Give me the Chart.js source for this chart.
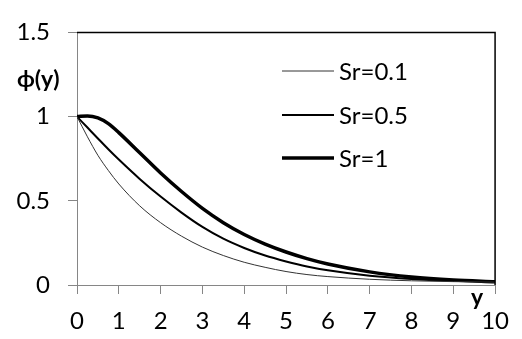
<!DOCTYPE html>
<html>
<head>
<meta charset="utf-8">
<script src="https://cdn.jsdelivr.net/npm/chart.js@4.4.1/dist/chart.umd.min.js"></script>
<style>
  html, body { margin: 0; padding: 0; background: #fff; }
  #wrap { width: 522px; height: 339px; }
</style>
</head>
<body>
<div id="wrap"><canvas id="chart" width="522" height="339"></canvas></div>
<script>
/* =====================
   DATA
===================== */
const yPos = [0, 0.25, 0.5, 0.75, 1, 1.5, 2, 2.5, 3, 3.5, 4, 4.5, 5, 5.5, 6, 7, 8, 9, 10];
const phiSr01 = [1, 0.88, 0.77, 0.68, 0.6, 0.47, 0.37, 0.29, 0.225, 0.175, 0.135, 0.105, 0.08, 0.062, 0.05, 0.034, 0.025, 0.02, 0.017];
const phiSr05 = [1, 0.935, 0.87, 0.806, 0.745, 0.63, 0.525, 0.43, 0.345, 0.275, 0.22, 0.175, 0.14, 0.11, 0.087, 0.055, 0.036, 0.025, 0.018];
const phiSr1  = [1, 1.004, 0.992, 0.958, 0.905, 0.785, 0.665, 0.555, 0.455, 0.37, 0.3, 0.243, 0.196, 0.157, 0.125, 0.078, 0.047, 0.029, 0.019];
const seriesNames = ["Sr=0.1", "Sr=0.5", "Sr=1"];
const lineWidths = [1, 2, 3.5];

const FONT = "Lato, 'Open Sans', sans-serif";
const AXIS_GREY = "#868686";

/* =====================
   HELPER
===================== */
const toPoints = arr => arr.map((v, i) => ({ x: yPos[i], y: v }));

function makeSet(i, arr) {
  return {
    label: seriesNames[i],
    data: toPoints(arr),
    borderColor: i === 0 ? "#333" : "#000",
    borderWidth: lineWidths[i],
    pointRadius: 0,
    cubicInterpolationMode: "monotone",
    fill: false
  };
}

/* =====================
   DECORATION PLUGIN
   frame on top/right, axis titles, inline legend
===================== */
const decor = {
  id: "decor",
  afterDraw(chart) {
    const { ctx, chartArea: a } = chart;
    ctx.save();

    // plot frame, top + right
    ctx.strokeStyle = "#000";
    ctx.lineWidth = 1.5;
    ctx.beginPath();
    ctx.moveTo(a.left, a.top);
    ctx.lineTo(a.right, a.top);
    ctx.lineTo(a.right, a.bottom);
    ctx.stroke();

    // axis titles
    ctx.fillStyle = "#000";
    ctx.font = "bold 23px " + FONT;
    ctx.textBaseline = "middle";
    ctx.textAlign = "left";
    ctx.fillText("\u03d5(y)", 17, 80);
    ctx.fillText("y", 471, 298);

    // legend
    ctx.font = "24px " + FONT;
    const rows = [71, 115, 158];
    chart.data.datasets.forEach((ds, i) => {
      ctx.strokeStyle = ds.borderColor;
      ctx.lineWidth = ds.borderWidth;
      ctx.beginPath();
      ctx.moveTo(282, rows[i]);
      ctx.lineTo(334, rows[i]);
      ctx.stroke();
      ctx.fillText(ds.label, 339, rows[i] + 1);
    });

    ctx.restore();
  }
};

/* =====================
   CHART
===================== */
new Chart(document.getElementById("chart"), {
  type: "line",
  data: {
    datasets: [makeSet(0, phiSr01), makeSet(1, phiSr05), makeSet(2, phiSr1)]
  },
  options: {
    responsive: false,
    animation: false,
    devicePixelRatio: 1,
    layout: { padding: { top: 17, right: 20, left: 0, bottom: 0 } },
    plugins: { legend: { display: false }, tooltip: { enabled: false } },
    scales: {
      x: {
        type: "linear",
        min: 0,
        max: 10,
        ticks: {
          stepSize: 1,
          color: "#000",
          padding: 13,
          maxRotation: 0,
          font: { family: FONT, size: 24 }
        },
        grid: { drawOnChartArea: false, tickLength: 9, color: AXIS_GREY },
        border: { color: AXIS_GREY },
        afterFit: s => { s.height = 54; }
      },
      y: {
        min: 0,
        max: 1.5,
        ticks: {
          stepSize: 0.5,
          color: "#000",
          padding: 18,
          font: { family: FONT, size: 24 },
          callback: v => String(v)
        },
        grid: { drawOnChartArea: false, tickLength: 9, color: AXIS_GREY },
        border: { color: AXIS_GREY },
        afterFit: s => { s.width = 77; }
      }
    }
  },
  plugins: [decor]
});
</script>
</body>
</html>
